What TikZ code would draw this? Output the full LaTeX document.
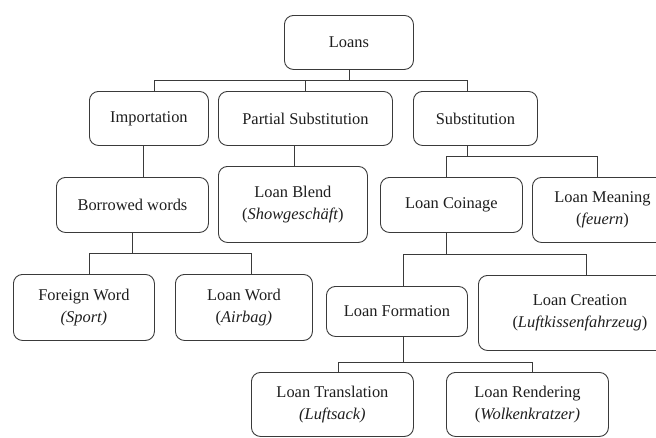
\documentclass[tikz,border=0pt]{standalone}
\usepackage{fontspec}
\setmainfont{Liberation Serif}
\definecolor{linec}{HTML}{3A3A3A}
\definecolor{textc}{HTML}{1E1E1E}
\tikzset{
  box/.style={draw=linec, line width=0.9pt, rounded corners=9pt, inner sep=0pt,
    anchor=north west, align=center, text=textc,
    font=\fontsize{16.4}{21.5}\selectfont},
  conn/.style={draw=linec, line width=0.9pt}
}
\begin{document}
\begin{tikzpicture}[x=1pt,y=-1pt]
\useasboundingbox (0,0) rectangle (656,437);
\fill[white] (0,0) rectangle (656,437);
\clip (0,0) rectangle (656,437);
% boxes
\node[box, minimum width=129pt, minimum height=54pt] (loans) at (284,15) {Loans};
\node[box, minimum width=119pt, minimum height=54pt] (imp) at (89,91) {Importation};
\node[box, minimum width=174pt, minimum height=54pt] (part) at (218,91) {Partial Substitution};
\node[box, minimum width=124pt, minimum height=54pt] (sub) at (413,91) {Substitution};
\node[box, minimum width=152pt, minimum height=55pt] (bor) at (56,177) {Borrowed words};
\node[box, minimum width=149pt, minimum height=76pt] (blend) at (218,166) {Loan Blend\\(\textit{Showgeschäft})};
\node[box, minimum width=142pt, minimum height=55pt] (coin) at (380,177) {Loan Coinage};
\node[box, minimum width=140pt, minimum height=65pt] (mean) at (532,177) {Loan Meaning\\(\textit{feuern})};
\node[box, minimum width=141pt, minimum height=66pt] (foreign) at (13,274) {Foreign Word\\\textit{(Sport)}};
\node[box, minimum width=137pt, minimum height=66pt] (lword) at (175,274) {Loan Word\\(\textit{Airbag)}};
\node[box, minimum width=141pt, minimum height=50pt] (form) at (326,286) {Loan Formation};
\node[box, minimum width=203pt, minimum height=75pt] (creat) at (478,275) {Loan Creation\\(\textit{Luftkissenfahrzeug})};
\node[box, minimum width=162pt, minimum height=64pt] (trans) at (251,372) {Loan Translation\\\textit{(Luftsack)}};
\node[box, minimum width=162pt, minimum height=64pt] (rend) at (446,372) {Loan Rendering\\(\textit{Wolkenkratzer)}};
% bus coordinates
\coordinate (b1l) at (154,80);
\coordinate (b1r) at (467,80);
\coordinate (b2l) at (446,156);
\coordinate (b2r) at (597,156);
\coordinate (b3l) at (89,253);
\coordinate (b3r) at (251,253);
\coordinate (b4l) at (403,254);
\coordinate (b4r) at (586,254);
\coordinate (b5l) at (338,362);
\coordinate (b5r) at (532,362);
\coordinate (v1) at (143,0);
\coordinate (v2) at (294,0);
\coordinate (v3) at (132,0);
% connectors
\draw[conn] (loans.south) -- (loans.south |- b1l);
\draw[conn] (b1l |- imp.north) -- (b1l) -- (b1r) -- (b1r |- sub.north);
\draw[conn] (part.north) -- (part.north |- b1l);
\draw[conn] (v1 |- imp.south) -- (v1 |- bor.north);
\draw[conn] (v2 |- part.south) -- (v2 |- blend.north);
\draw[conn] (sub.south -| b1r) -- (b1r |- b2l);
\draw[conn] (b2l |- coin.north) -- (b2l) -- (b2r) -- (b2r |- mean.north);
\draw[conn] (v3 |- bor.south) -- (v3 |- b3l);
\draw[conn] (b3l |- foreign.north) -- (b3l) -- (b3r) -- (b3r |- lword.north);
\draw[conn] (coin.south -| b2l) -- (b2l |- b4l);
\draw[conn] (b4l |- form.north) -- (b4l) -- (b4r) -- (b4r |- creat.north);
\draw[conn] (form.south -| b4l) -- (b4l |- b5l);
\draw[conn] (b5l |- trans.north) -- (b5l) -- (b5r) -- (b5r |- rend.north);
\end{tikzpicture}
\end{document}
